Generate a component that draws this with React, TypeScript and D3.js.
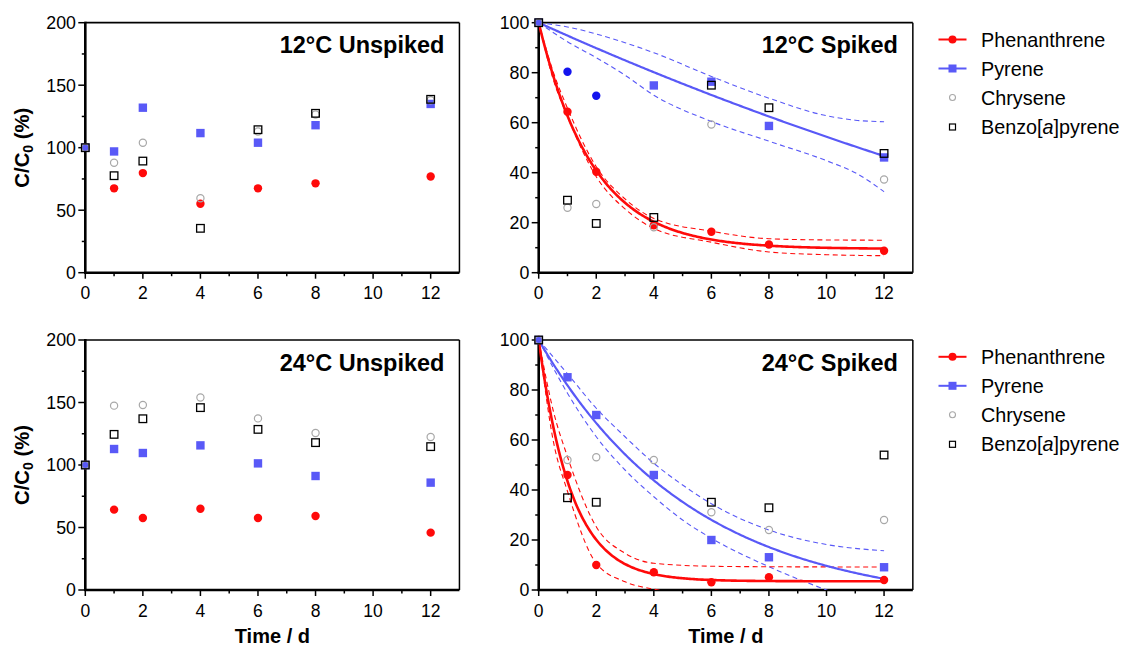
import React from "react";
import * as d3 from "d3";

// Sampling days (d)
const days = [0, 1, 2, 4, 6, 8, 12];

// C/C0 (%) — 12 °C, unspiked
const phen12U = [100, 67.5, 79.7, 55.2, 67.5, 71.5, 77];
const pyr12U = [100, 97, 132, 111.7, 104, 118, 135];
const chry12U = [100, 88, 104, 59.5, 113, 126.5, 138];
const bap12U = [100, 77.6, 89.3, 35.5, 114.4, 127.5, 138.7];

// C/C0 (%) — 12 °C, spiked
const phen12S = [100, 64.4, 40.4, 19, 16.4, 11.3, 8.8];
const pyr12S = [100, null, null, 74.9, 76.4, 58.7, 46.1];
const chry12S = [100, 26, 27.5, 18.2, 59.3, null, 37.3];
const bap12S = [100, 29, 19.7, 22.1, 75, 66, 47.7];
// pyrene values left out of the fit
const pyr12SExclDays = [1, 2];
const pyr12SExcl = [80.4, 70.8];

// C/C0 (%) — 24 °C, unspiked
const phen24U = [100, 64.3, 57.6, 65, 57.6, 59.2, 45.9];
const pyr24U = [100, 112.8, 109.6, 115.7, 101.3, 91.2, 85.9];
const chry24U = [100, 147.5, 148, 154, 137.3, 125.6, 122.4];
const bap24U = [100, 124.5, 137, 145.9, 128.5, 117.9, 114.7];

// C/C0 (%) — 24 °C, spiked
const phen24S = [100, 46, 10, 7.1, 3.1, 5.1, 4];
const pyr24S = [100, 85.1, 70, 46, 20, 13.1, 9.1];
const chry24S = [100, 52, 53.1, 52, 31.1, 24, 28];
const bap24S = [100, 36.9, 35.1, null, 35.1, 32.9, 54];

// One-phase decay fits: y = plateau + (100 - plateau) * exp(-k t)
const fitPhen12S = { plateau: 9.5, k: 0.53 };
const fitPyr12S = { plateau: -86.9, k: 0.028 };
const fitPhen24S = { plateau: 3.5, k: 0.88 };
const fitPyr24S = { plateau: -7, k: 0.186 };

// 95% confidence bands of the fits
const bandPhen12ST = [0, 0.5, 1, 2, 3, 4, 6, 8, 10, 12];
const bandPhen12SHi = [100, 80.5, 65.8, 42.4, 29.5, 21.7, 16.6, 13.6, 13.1, 13];
const bandPhen12SLo = [100, 77.5, 62.5, 38.4, 25.5, 17.7, 12.2, 8.3, 7.2, 6.8];

const bandPyr12ST = [0, 1, 2, 3, 4, 6, 8, 10, 11, 12];
const bandPyr12SHi = [100, 98.3, 95.5, 92, 88, 78.5, 69.8, 62.8, 61, 60.4];
const bandPyr12SLo = [100, 92.4, 86, 79, 71, 60.5, 52.6, 44.8, 40, 32.4];

const bandPhen24ST = [0, 0.5, 1, 2, 3, 4, 6, 8, 12];
const bandPhen24SHi = [100, 72, 53.3, 25.3, 14.7, 10.7, 9.5, 9.3, 9.2];
const bandPhen24SLo = [100, 60, 39.5, 10.7, 3.3, 0.3, -2, -2.5, -2.7];

const bandPyr24ST = [0, 1, 2, 3, 4, 5, 6, 8, 10, 12];
const bandPyr24SHi = [100, 86.5, 72.7, 61.3, 50.7, 42, 34.5, 24, 18.2, 15.7];
const bandPyr24SLo = [100, 78.7, 61.3, 48, 37.3, 28, 20.7, 9.3, 0, -8];

// Axis ticks
const xMajor = [0, 2, 4, 6, 8, 10, 12];
const xMinor = [1, 3, 5, 7, 9, 11];
const yMajorUnspiked = [0, 50, 100, 150, 200];
const yMinorUnspiked = [25, 75, 125, 175];
const yMajorSpiked = [0, 20, 40, 60, 80, 100];
const yMinorSpiked = [10, 30, 50, 70, 90];

const legendNames = ["Phenanthrene", "Pyrene", "Chrysene", "Benzo[a]pyrene"];

const FONT = "'Liberation Sans', Arial, Helvetica, sans-serif";
const RED = "#ff0a0a";
const BLUE = "#5959f7";
const DARK_BLUE = "#1414ee";
const GREY = "#a8a8a8";

const DAY_PX = 28.78;
const PLOT_H = 250;

type Series = (number | null)[];
type Fit = { plateau: number; k: number; color: string; width: number };
type Band = { t: number[]; hi: number[]; lo: number[]; color: string };

interface PanelProps {
  id: string;
  left: number;
  top: number;
  yMax: number;
  yMajor: number[];
  yMinor: number[];
  title: string;
  phen: Series;
  pyr: Series;
  chry: Series;
  bap: Series;
  fits?: Fit[];
  bands?: Band[];
  exclDays?: number[];
  excl?: number[];
  xLabel?: boolean;
  yLabel?: boolean;
}

function Panel(p: PanelProps) {
  const x = d3.scaleLinear().domain([0, 13]).range([p.left, p.left + 13 * DAY_PX]);
  const y = d3.scaleLinear().domain([0, p.yMax]).range([p.top + PLOT_H, p.top]);
  const x0 = x(0);
  const x1 = x(13);
  const yb = y(0);
  const yt = y(p.yMax);

  const tGrid = d3.range(0, 12.0001, 0.05);
  const fitPath = (f: Fit) =>
    d3
      .line<number>()
      .x((t) => x(t))
      .y((t) => y(f.plateau + (100 - f.plateau) * Math.exp(-f.k * t)))(tGrid) || "";

  const bandLine = (ts: number[], vs: number[]) =>
    d3
      .line<number>()
      .x((_, i) => x(ts[i]))
      .y((v) => y(v))
      .curve(d3.curveMonotoneX)(vs) || "";

  const pts = (vals: Series) =>
    vals
      .map((v, i) => ({ d: days[i], v }))
      .filter((o) => o.v !== null) as { d: number; v: number }[];

  const clipId = `clip-${p.id}`;

  return (
    <g>
      <defs>
        <clipPath id={clipId}>
          <rect x={x0} y={yt} width={x1 - x0} height={yb - yt} />
        </clipPath>
      </defs>

      {/* frame */}
      <line x1={x0} x2={x1} y1={yt} y2={yt} stroke="#000" strokeWidth={1.7} />
      <line x1={x1} x2={x1} y1={yt} y2={yb} stroke="#000" strokeWidth={1.5} />
      <line x1={x0} x2={x0} y1={yt - 1} y2={yb + 1} stroke="#000" strokeWidth={2.6} />
      <line x1={x0 - 1} x2={x1} y1={yb} y2={yb} stroke="#000" strokeWidth={2.6} />

      {/* x ticks */}
      {xMajor.map((t) => (
        <g key={`xM${t}`}>
          <line x1={x(t)} x2={x(t)} y1={yb} y2={yb + 6} stroke="#000" strokeWidth={1.5} />
          <text
            x={x(t)}
            y={yb + 26.5}
            textAnchor="middle"
            fontFamily={FONT}
            fontSize={17.5}
            fill="#000"
          >
            {t}
          </text>
        </g>
      ))}
      {xMinor.map((t) => (
        <line key={`xm${t}`} x1={x(t)} x2={x(t)} y1={yb} y2={yb + 3.5} stroke="#000" strokeWidth={1.5} />
      ))}

      {/* y ticks */}
      {p.yMajor.map((v) => (
        <g key={`yM${v}`}>
          <line x1={x0 - 7} x2={x0} y1={y(v)} y2={y(v)} stroke="#000" strokeWidth={1.5} />
          <text
            x={x0 - 9.3}
            y={y(v) + 6.3}
            textAnchor="end"
            fontFamily={FONT}
            fontSize={17.8}
            fill="#000"
          >
            {v}
          </text>
        </g>
      ))}
      {p.yMinor.map((v) => (
        <line key={`ym${v}`} x1={x0 - 3.5} x2={x0} y1={y(v)} y2={y(v)} stroke="#000" strokeWidth={1.5} />
      ))}

      {/* panel title */}
      <text
        x={x1 - 15}
        y={yt + 30.6}
        textAnchor="end"
        fontFamily={FONT}
        fontWeight="bold"
        fontSize={23.5}
        fill="#000"
      >
        {p.title}
      </text>

      {/* confidence bands and fitted curves */}
      <g clipPath={`url(#${clipId})`}>
        {(p.bands || []).map((b, i) => (
          <g key={`band${i}`}>
            <path d={bandLine(b.t, b.hi)} fill="none" stroke={b.color} strokeWidth={1.1} strokeDasharray="5,3.5" />
            <path d={bandLine(b.t, b.lo)} fill="none" stroke={b.color} strokeWidth={1.1} strokeDasharray="5,3.5" />
          </g>
        ))}
        {(p.fits || []).map((f, i) => (
          <path key={`fit${i}`} d={fitPath(f)} fill="none" stroke={f.color} strokeWidth={f.width} />
        ))}
      </g>

      {/* data points */}
      {pts(p.phen).map((o) => (
        <circle key={`ph${o.d}`} cx={x(o.d)} cy={y(o.v)} r={4.2} fill={RED} />
      ))}
      {pts(p.pyr).map((o) => (
        <rect key={`py${o.d}`} x={x(o.d) - 4.2} y={y(o.v) - 4.2} width={8.4} height={8.4} fill={BLUE} />
      ))}
      {(p.exclDays || []).map((d, i) => (
        <circle key={`ex${d}`} cx={x(d)} cy={y((p.excl || [])[i])} r={4.2} fill={DARK_BLUE} />
      ))}
      {pts(p.chry).map((o) => (
        <circle key={`ch${o.d}`} cx={x(o.d)} cy={y(o.v)} r={3.6} fill="none" stroke={GREY} strokeWidth={1.2} />
      ))}
      {pts(p.bap).map((o) => (
        <rect
          key={`bp${o.d}`}
          x={x(o.d) - 3.8}
          y={y(o.v) - 3.8}
          width={7.6}
          height={7.6}
          fill="none"
          stroke="#000"
          strokeWidth={1.3}
        />
      ))}

      {/* y-axis title */}
      {p.yLabel && (
        <text
          transform={`translate(28.5, ${(yt + yb) / 2}) rotate(-90)`}
          textAnchor="middle"
          fontFamily={FONT}
          fontWeight="bold"
          fontSize={20.3}
          fill="#000"
        >
          C/C
          <tspan fontSize={14} dy={4}>
            0
          </tspan>
          <tspan dy={-4}> (%)</tspan>
        </text>
      )}

      {p.xLabel && (
        <text
          x={x(6.5)}
          y={642.5}
          textAnchor="middle"
          fontFamily={FONT}
          fontWeight="bold"
          fontSize={20}
          fill="#000"
        >
          Time / d
        </text>
      )}
    </g>
  );
}

function Legend({ top }: { top: number }) {
  const rows = [top, top + 29, top + 58, top + 87.5];
  const lx = 952.5;
  return (
    <g fontFamily={FONT} fontSize={19.8} fill="#000">
      {/* Phenanthrene */}
      <line x1={938.5} x2={966.5} y1={rows[0]} y2={rows[0]} stroke={RED} strokeWidth={2} />
      <circle cx={lx} cy={rows[0]} r={4} fill={RED} />
      {/* Pyrene */}
      <line x1={938.5} x2={966.5} y1={rows[1]} y2={rows[1]} stroke={BLUE} strokeWidth={2} />
      <rect x={lx - 4} y={rows[1] - 4} width={8} height={8} fill={BLUE} />
      {/* Chrysene */}
      <circle cx={lx} cy={rows[2]} r={3} fill="none" stroke={GREY} strokeWidth={1.1} />
      {/* Benzo[a]pyrene */}
      <rect x={lx - 3} y={rows[3] - 3} width={6} height={6} fill="none" stroke="#000" strokeWidth={1.2} />

      <text x={981} y={rows[0] + 7}>{legendNames[0]}</text>
      <text x={981} y={rows[1] + 7}>{legendNames[1]}</text>
      <text x={981} y={rows[2] + 7}>{legendNames[2]}</text>
      <text x={981} y={rows[3] + 7}>
        Benzo[<tspan fontStyle="italic">a</tspan>]pyrene
      </text>
    </g>
  );
}

export default function App() {
  const LEFT_A = 85.3;
  const LEFT_B = 538.7;
  const TOP_A = 22.7;
  const TOP_B = 340;
  return (
    <svg
      width={1128}
      height={645}
      viewBox="0 0 1128 645"
      style={{ position: "absolute", left: 0, top: 0, background: "#fff" }}
    >
      <rect width={1128} height={645} fill="#fff" />
      <Panel
        id="u12"
        left={LEFT_A}
        top={TOP_A}
        yMax={200}
        yMajor={yMajorUnspiked}
        yMinor={yMinorUnspiked}
        title="12°C Unspiked"
        phen={phen12U}
        pyr={pyr12U}
        chry={chry12U}
        bap={bap12U}
        yLabel
      />
      <Panel
        id="s12"
        left={LEFT_B}
        top={TOP_A}
        yMax={100}
        yMajor={yMajorSpiked}
        yMinor={yMinorSpiked}
        title="12°C Spiked"
        phen={phen12S}
        pyr={pyr12S}
        chry={chry12S}
        bap={bap12S}
        exclDays={pyr12SExclDays}
        excl={pyr12SExcl}
        bands={[
          { t: bandPyr12ST, hi: bandPyr12SHi, lo: bandPyr12SLo, color: BLUE },
          { t: bandPhen12ST, hi: bandPhen12SHi, lo: bandPhen12SLo, color: RED },
        ]}
        fits={[
          { ...fitPyr12S, color: BLUE, width: 2.2 },
          { ...fitPhen12S, color: RED, width: 2.6 },
        ]}
      />
      <Panel
        id="u24"
        left={LEFT_A}
        top={TOP_B}
        yMax={200}
        yMajor={yMajorUnspiked}
        yMinor={yMinorUnspiked}
        title="24°C Unspiked"
        phen={phen24U}
        pyr={pyr24U}
        chry={chry24U}
        bap={bap24U}
        xLabel
        yLabel
      />
      <Panel
        id="s24"
        left={LEFT_B}
        top={TOP_B}
        yMax={100}
        yMajor={yMajorSpiked}
        yMinor={yMinorSpiked}
        title="24°C Spiked"
        phen={phen24S}
        pyr={pyr24S}
        chry={chry24S}
        bap={bap24S}
        bands={[
          { t: bandPyr24ST, hi: bandPyr24SHi, lo: bandPyr24SLo, color: BLUE },
          { t: bandPhen24ST, hi: bandPhen24SHi, lo: bandPhen24SLo, color: RED },
        ]}
        fits={[
          { ...fitPyr24S, color: BLUE, width: 2.2 },
          { ...fitPhen24S, color: RED, width: 2.6 },
        ]}
        xLabel
      />
      <Legend top={39.5} />
      <Legend top={356.8} />
    </svg>
  );
}
